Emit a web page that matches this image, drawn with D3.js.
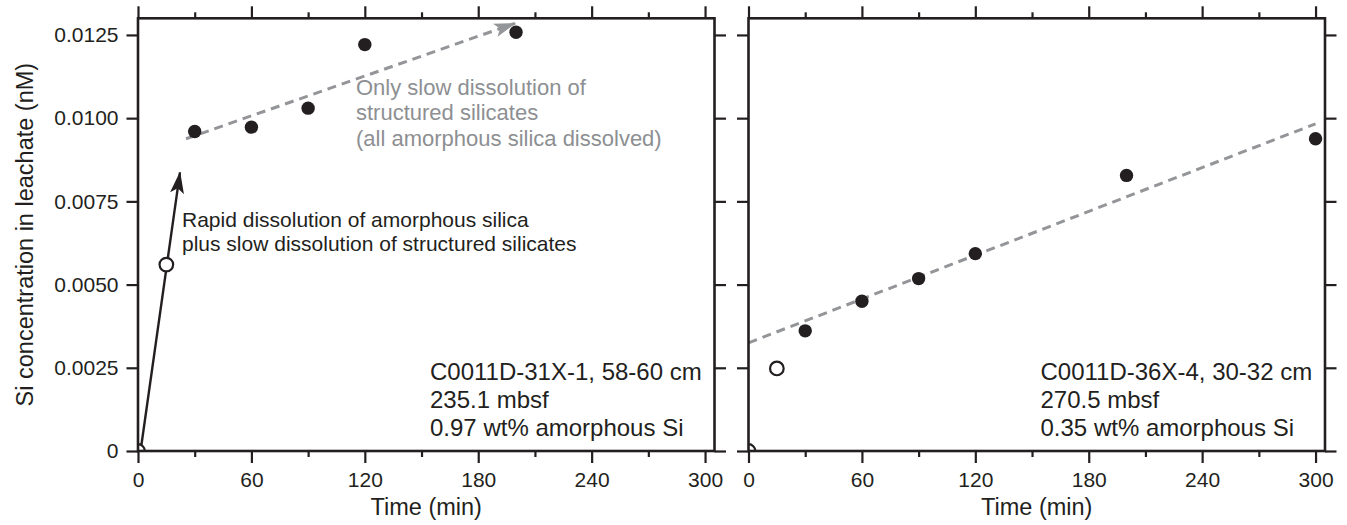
<!DOCTYPE html>
<html>
<head>
<meta charset="utf-8">
<script src="https://cdn.jsdelivr.net/npm/d3@7"></script>
<style>
  body { margin: 0; background: #fff; }
  svg text { font-family: "Liberation Sans", Arial, Helvetica, sans-serif; fill: #231f20; }
</style>
</head>
<body>
<div id="chart"></div>
<script>
// data
const xTicks = [0, 60, 120, 180, 240, 300];
const xMinor = [30, 90, 150, 210, 270];
const yTicks = [0, 0.0025, 0.005, 0.0075, 0.01, 0.0125];
const yTickLabels = ["0", "0.0025", "0.0050", "0.0075", "0.0100", "0.0125"];

// left panel: C0011D-31X-1
const leftOpenTime = [0, 15];
const leftOpenSi = [0, 0.0056];
const leftTime = [30, 60, 90, 120, 200];
const leftSi = [0.0096, 0.00973, 0.0103, 0.01221, 0.01258];
const leftTrendTime = [25.4, 199.5];
const leftTrendSi = [0.00938, 0.01285];
const leftArrowTime = [1.5, 22.2];
const leftArrowSi = [0.00006, 0.00837];
const leftInfo = ["C0011D-31X-1, 58-60 cm", "235.1 mbsf", "0.97 wt% amorphous Si"];
const rapidNote = ["Rapid dissolution of amorphous silica", "plus slow dissolution of structured silicates"];
const slowNote = ["Only slow dissolution of", "structured silicates", "(all amorphous silica dissolved)"];

// right panel: C0011D-36X-4
const rightOpenTime = [0, 15];
const rightOpenSi = [0, 0.00248];
const rightTime = [30, 60, 90, 120, 200, 300];
const rightSi = [0.00361, 0.0045, 0.00518, 0.00593, 0.00828, 0.00938];
const rightTrendTime = [0, 300];
const rightTrendSi = [0.00325, 0.00983];
const rightInfo = ["C0011D-36X-4, 30-32 cm", "270.5 mbsf", "0.35 wt% amorphous Si"];

const W = 1347, H = 525;
const plotTop = 18.3, plotBottom = 451;
const pw = 576.5, ph = plotBottom - plotTop;
const ink = "#231f20", gray = "#939598", grayText = "#8d8f92";

const svg = d3.select("#chart").append("svg")
  .attr("width", W).attr("height", H);

const defs = svg.append("defs");
function marker(id, color) {
  defs.append("marker")
    .attr("id", id)
    .attr("viewBox", "0 0 22 14")
    .attr("refX", 21).attr("refY", 7)
    .attr("markerWidth", 22).attr("markerHeight", 14)
    .attr("markerUnits", "userSpaceOnUse")
    .attr("orient", "auto")
    .append("path")
    .attr("d", "M0,0 L22,7 L0,14 L5,7 Z")
    .attr("fill", color);
}
marker("arrowBlack", ink);
marker("arrowGray", gray);

const x = d3.scaleLinear().domain([0, 305]).range([0, pw]);
const y = d3.scaleLinear().domain([0, 0.013]).range([ph, 0]);

function panel(left, idx, opts) {
  const g = svg.append("g").attr("transform", `translate(${left},${plotTop})`);

  defs.append("clipPath").attr("id", "clip" + idx)
    .append("rect").attr("width", pw).attr("height", ph);

  const plot = g.append("g").attr("clip-path", `url(#clip${idx})`);

  // trend line
  plot.append("line")
    .attr("x1", x(opts.trendT[0])).attr("y1", y(opts.trendS[0]))
    .attr("x2", x(opts.trendT[1])).attr("y2", y(opts.trendS[1]))
    .attr("stroke", gray).attr("stroke-width", 3)
    .attr("stroke-dasharray", "9,6")
    .attr("marker-end", opts.trendArrow ? "url(#arrowGray)" : null);

  if (opts.arrowT) {
    plot.append("line")
      .attr("x1", x(opts.arrowT[0])).attr("y1", y(opts.arrowS[0]))
      .attr("x2", x(opts.arrowT[1])).attr("y2", y(opts.arrowS[1]))
      .attr("stroke", ink).attr("stroke-width", 2.4)
      .attr("marker-end", "url(#arrowBlack)");
  }

  plot.selectAll("circle.open")
    .data(d3.zip(opts.openT, opts.openS))
    .join("circle")
    .attr("class", "open")
    .attr("cx", d => x(d[0])).attr("cy", d => y(d[1]))
    .attr("r", 6.8)
    .attr("fill", "#fff").attr("stroke", ink).attr("stroke-width", 2.2);

  plot.selectAll("circle.fill")
    .data(d3.zip(opts.t, opts.s))
    .join("circle")
    .attr("class", "fill")
    .attr("cx", d => x(d[0])).attr("cy", d => y(d[1]))
    .attr("r", 6.7)
    .attr("fill", ink);

  // axes
  const style = sel => {
    sel.select(".domain").remove();
    sel.selectAll("line").attr("stroke", ink).attr("stroke-width", 2.2);
    sel.selectAll("text").style("font-size", "21px").attr("fill", ink);
  };

  g.append("g").attr("transform", `translate(0,${ph})`)
    .call(d3.axisBottom(x).tickValues(xTicks).tickSize(12).tickPadding(9).tickSizeOuter(0))
    .call(style);
  g.append("g").attr("transform", `translate(0,${ph})`)
    .call(d3.axisBottom(x).tickValues(xMinor).tickSize(6).tickFormat("").tickSizeOuter(0))
    .call(style);
  g.append("g")
    .call(d3.axisTop(x).tickValues(xTicks).tickSize(12).tickFormat("").tickSizeOuter(0))
    .call(style);
  g.append("g")
    .call(d3.axisTop(x).tickValues(xMinor).tickSize(6).tickFormat("").tickSizeOuter(0))
    .call(style);
  g.append("g")
    .call(d3.axisLeft(y).tickValues(yTicks).tickSize(11.5).tickPadding(8)
      .tickFormat((d, i) => opts.yLabels ? yTickLabels[i] : "").tickSizeOuter(0))
    .call(style);
  g.append("g").attr("transform", `translate(${pw},0)`)
    .call(d3.axisRight(y).tickValues(yTicks).tickSize(11.5).tickFormat("").tickSizeOuter(0))
    .call(style);

  // frame
  g.append("rect").attr("width", pw).attr("height", ph)
    .attr("fill", "none").attr("stroke", ink).attr("stroke-width", 2.6);

  // x title
  g.append("text")
    .attr("x", pw / 2).attr("y", 515 - plotTop)
    .attr("text-anchor", "middle")
    .style("font-size", "23.5px")
    .text("Time (min)");

  // sample info
  g.append("g").selectAll("text")
    .data(opts.info)
    .join("text")
    .attr("x", 292)
    .attr("y", (d, i) => 380 - plotTop + i * 28.2)
    .style("font-size", "24px")
    .text(d => d);

  return g;
}

const gL = panel(138, 0, {
  openT: leftOpenTime, openS: leftOpenSi, t: leftTime, s: leftSi,
  trendT: leftTrendTime, trendS: leftTrendSi, trendArrow: true,
  arrowT: leftArrowTime, arrowS: leftArrowSi,
  info: leftInfo, yLabels: true
});

panel(748.5, 1, {
  openT: rightOpenTime, openS: rightOpenSi, t: rightTime, s: rightSi,
  trendT: rightTrendTime, trendS: rightTrendSi, trendArrow: false,
  info: rightInfo, yLabels: false
});

// annotations in the left panel
gL.append("g").selectAll("text")
  .data(rapidNote)
  .join("text")
  .attr("x", 182 - 138)
  .attr("y", (d, i) => 227.5 - plotTop + i * 24)
  .style("font-size", "21px")
  .text(d => d);

gL.append("g").selectAll("text")
  .data(slowNote)
  .join("text")
  .attr("x", 356 - 138)
  .attr("y", (d, i) => 95 - plotTop + i * 25.3)
  .style("font-size", "22px")
  .style("fill", grayText)
  .text(d => d);

// y title
svg.append("text")
  .attr("transform", `translate(33,${(plotTop + plotBottom) / 2}) rotate(-90)`)
  .attr("text-anchor", "middle")
  .style("font-size", "23.5px")
  .text("Si concentration in leachate (nM)");
</script>
</body>
</html>
